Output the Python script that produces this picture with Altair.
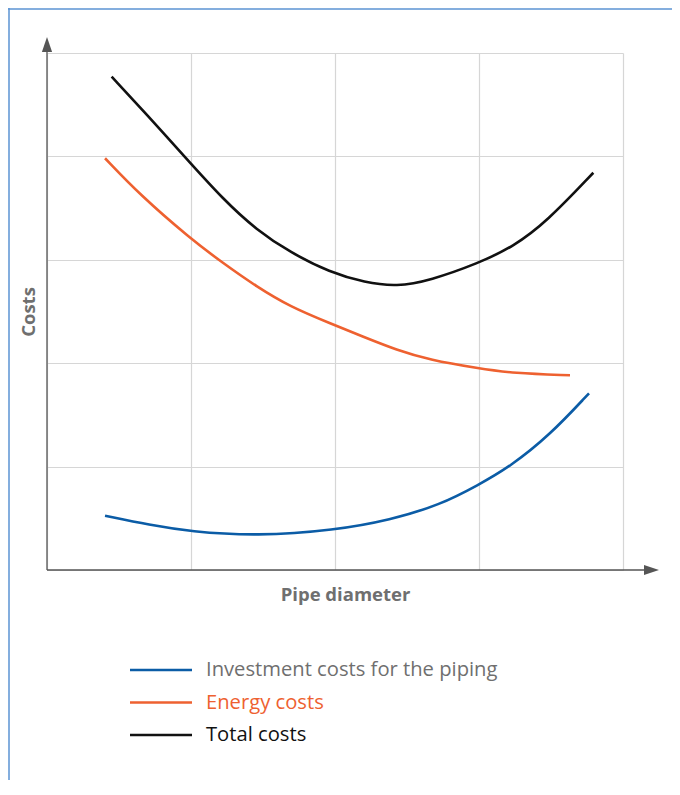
import altair as alt
import pandas as pd

# ---- data (x: pipe diameter 0..4, y: costs 0..5) ----
inv_x = [0.403, 0.715, 0.993, 1.456, 2.0, 2.382, 2.729, 2.995, 3.215, 3.493, 3.764]
inv_y = [0.525, 0.435, 0.372, 0.328, 0.385, 0.484, 0.629, 0.822, 0.999, 1.306, 1.709]

en_x = [0.403, 0.646, 0.993, 1.224, 1.456, 1.688, 1.965, 2.197, 2.428, 2.660, 2.995, 3.238, 3.632]
en_y = [3.982, 3.627, 3.208, 2.966, 2.740, 2.546, 2.386, 2.256, 2.128, 2.031, 1.951, 1.902, 1.883]

tot_x = [0.449, 0.715, 0.958, 1.224, 1.456, 1.688, 1.965, 2.208, 2.428, 2.660, 2.995, 3.238, 3.470, 3.794]
tot_y = [4.771, 4.370, 3.994, 3.583, 3.288, 3.072, 2.878, 2.780, 2.740, 2.800, 2.966, 3.127, 3.368, 3.842]

series_names = ["Investment costs for the piping", "Energy costs", "Total costs"]
line_colors = ["#0b5ca6", "#ee6130", "#111111"]
text_colors = ["#6f6f6f", "#ee6130", "#111111"]

x_ticks = [0, 1, 2, 3, 4]
y_ticks = [0, 1, 2, 3, 4, 5]

# ---- build table ----
rows = []
for name, xs, ys in zip(series_names, [inv_x, en_x, tot_x], [inv_y, en_y, tot_y]):
    for i, (xv, yv) in enumerate(zip(xs, ys)):
        rows.append({"series": name, "x": xv, "y": yv, "order": i})
df = pd.DataFrame(rows)

W, H = 576, 517
AXIS = "#555555"
FONT = "Open Sans"

x_scale = alt.Scale(domain=[0, 4], nice=False, zero=False)
y_scale = alt.Scale(domain=[0, 5], nice=False, zero=False)

lines = alt.Chart(df).mark_line(strokeWidth=2.6, interpolate="basis").encode(
    x=alt.X("x:Q", scale=x_scale,
            axis=alt.Axis(values=x_ticks, grid=True, labels=False, ticks=False, domain=False,
                          title="Pipe diameter", titlePadding=15, titleX=W / 2 + 10)),
    y=alt.Y("y:Q", scale=y_scale,
            axis=alt.Axis(values=y_ticks, grid=True, labels=False, ticks=False, domain=False,
                          title="Costs", titlePadding=9)),
    color=alt.Color("series:N", scale=alt.Scale(domain=series_names, range=line_colors), legend=None),
    order="order:Q",
)

one = pd.DataFrame({"a": [0]})

y_axis_line = alt.Chart(one).mark_rule(color=AXIS, strokeWidth=1.3).encode(
    x=alt.value(0), y=alt.value(-8), y2=alt.value(H))
x_axis_line = alt.Chart(one).mark_rule(color=AXIS, strokeWidth=1.6).encode(
    x=alt.value(0), x2=alt.value(W + 26), y=alt.value(H))

up_arrow = alt.Chart(one).mark_point(
    shape="M0,-1L0.68,1L-0.68,1Z", filled=True, size=225, color=AXIS, opacity=1, strokeWidth=0
).encode(x=alt.value(0), y=alt.value(-8.5))
right_arrow = alt.Chart(one).mark_point(
    shape="M1,0L-1,-0.68L-1,0.68Z", filled=True, size=225, color=AXIS, opacity=1, strokeWidth=0
).encode(x=alt.value(604.5), y=alt.value(H))

# frame lines (light blue border of the figure)
frame_top = alt.Chart(one).mark_rule(color="#5b93d3", strokeWidth=1.5).encode(
    x=alt.value(-39), x2=alt.value(640), y=alt.value(-44))
frame_left = alt.Chart(one).mark_rule(color="#5b93d3", strokeWidth=1.5).encode(
    x=alt.value(-38), y=alt.value(-45), y2=alt.value(H + 260))

# custom legend
legend_layers = []
for i, name in enumerate(series_names):
    ly = 617 + 32.5 * i
    ldf = pd.DataFrame({"name": [name]})
    legend_layers.append(
        alt.Chart(ldf).mark_rule(color=line_colors[i], strokeWidth=2.6).encode(
            x=alt.value(83), x2=alt.value(145), y=alt.value(ly))
    )
    legend_layers.append(
        alt.Chart(ldf).mark_text(align="left", baseline="middle", font=FONT, fontSize=20.2,
                                 color=text_colors[i]).encode(
            x=alt.value(159), y=alt.value(ly), text="name:N")
    )

chart = alt.layer(
    lines, y_axis_line, x_axis_line, up_arrow, right_arrow, frame_top, frame_left, *legend_layers
).properties(
    width=W, height=H,
    autosize=alt.AutoSizeParams(type="none"),
    padding={"left": 39, "top": 45, "right": 49, "bottom": 210},
).configure_view(stroke=None).configure_axis(
    gridColor="#d6d6d6", gridWidth=1.2,
    titleFont=FONT, titleFontSize=18.5, titleFontWeight="bold", titleColor="#6f6f6f",
)

chart.save("out.html", embed_options={"renderer": "svg", "actions": False})
